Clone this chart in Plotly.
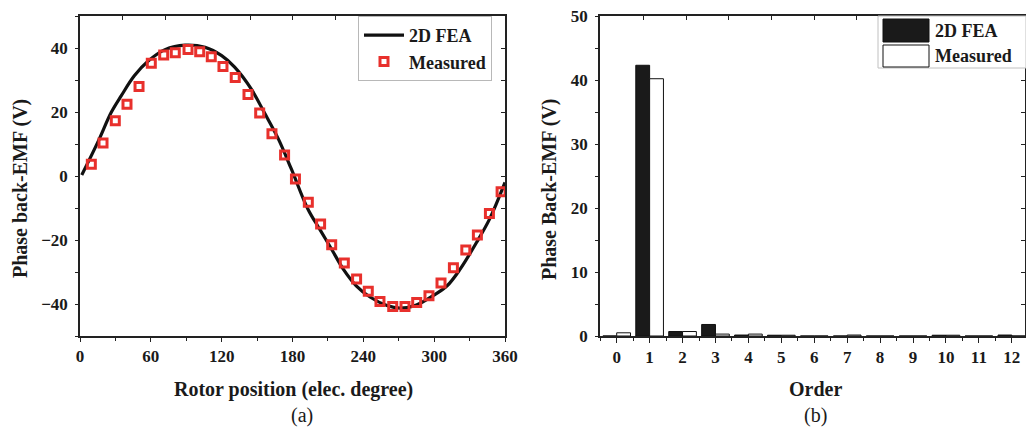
import plotly.graph_objects as go

# ---------------- data ----------------
fea_pos = [1.5, 15, 26.5, 35, 46, 58, 72, 89, 106, 120, 131, 145, 156, 168, 179,
           193, 203, 213, 223, 234, 246, 260, 271, 285, 299, 311, 322, 336, 347, 360]
fea_emf = [0.3, 10.5, 19.9, 25.1, 31.3, 36.0, 39.5, 40.9, 40.2, 37.6, 34.0, 27.2, 19.9, 11.6, 2.2,
           -10.3, -16.6, -22.8, -29.1, -34.3, -37.9, -40.5, -41.3, -40.3, -37.4, -34.3, -29.1, -20.7, -13.4, -2.0]

meas_pos = [9.6, 19.5, 29.9, 39.8, 50.0, 60.4, 70.9, 80.7, 91.5, 101.4, 111.2, 121.1, 131.5, 142.3,
            152.2, 162.6, 173.3, 182.5, 193.4, 203.8, 213.2, 223.9, 234.3, 244.2, 254.1, 264.9,
            275.3, 285.2, 295.6, 305.8, 316.3, 326.8, 336.6, 346.8, 356.7]
meas_emf = [3.7, 10.3, 17.3, 22.4, 28.0, 35.2, 37.8, 38.5, 39.5, 38.8, 37.3, 34.2, 30.8, 25.5,
            19.7, 13.2, 6.6, -0.9, -8.2, -15.0, -21.5, -27.2, -32.2, -36.0, -39.2, -40.8,
            -40.8, -39.5, -37.4, -33.4, -28.7, -23.1, -18.4, -11.7, -4.9]

orders = [0, 1, 2, 3, 4, 5, 6, 7, 8, 9, 10, 11, 12]
fea_harm = [0.0, 42.3, 0.7, 1.8, 0.15, 0.12, 0.0, 0.0, 0.0, 0.0, 0.12, 0.0, 0.15]
meas_harm = [0.5, 40.2, 0.7, 0.3, 0.3, 0.12, 0.0, 0.15, 0.0, 0.0, 0.12, 0.0, 0.0]

x_ticks_a = [0, 60, 120, 180, 240, 300, 360]
y_ticks_a = [-40, -20, 0, 20, 40]
y_ticks_b = [0, 10, 20, 30, 40, 50]

# ---------------- layout helpers ----------------
W, H = 1026, 429
def px(x):
    return x / W
def py(y):
    return 1 - y / H

SERIF = "Liberation Serif"
TXT = "#1a1a1a"
LC = "#222222"
tickfont = dict(family=SERIF, size=17, color=TXT, weight="bold")
titlefont = dict(family=SERIF, size=20, color=TXT, weight="bold")

fig = go.Figure()

fig.add_trace(go.Scatter(
    x=fea_pos, y=fea_emf, mode="lines", name="2D FEA",
    line=dict(color="#111111", width=3.2, shape="spline"),
    xaxis="x", yaxis="y", legend="legend"))
fig.add_trace(go.Scatter(
    x=meas_pos, y=meas_emf, mode="markers", name="Measured",
    marker=dict(symbol="square-open", size=8, color="#e8302c", line=dict(width=3)),
    xaxis="x", yaxis="y", legend="legend"))

fig.add_trace(go.Bar(
    x=orders, y=fea_harm, name="2D FEA", showlegend=False,
    marker=dict(color="#1a1a1a", line=dict(color="#111111", width=1)),
    xaxis="x2", yaxis="y2"))
fig.add_trace(go.Bar(
    x=orders, y=meas_harm, name="Measured", showlegend=False,
    marker=dict(color="#ffffff", line=dict(color="#111111", width=1)),
    xaxis="x2", yaxis="y2"))

# invisible carrier traces so the mirrored (top / right) axes get drawn
fig.add_trace(go.Scatter(x=meas_pos, y=meas_emf, mode="markers", marker=dict(opacity=0),
                         hoverinfo="skip", showlegend=False, xaxis="x3", yaxis="y3"))
fig.add_trace(go.Scatter(x=orders, y=meas_harm, mode="markers", marker=dict(opacity=0),
                         hoverinfo="skip", showlegend=False, xaxis="x4", yaxis="y4"))

dom_a = [px(80), px(505)]
dom_b = [px(600), px(1025)]
dom_y = [py(336), py(16)]

axis_common = dict(showline=True, linecolor=LC, linewidth=1.5,
                   showgrid=False, zeroline=False, tickcolor=LC,
                   tickwidth=1.3, tickfont=tickfont, automargin=False)
mirror_common = dict(ticks="inside", ticklen=4, showticklabels=False, showline=True,
                     linecolor=LC, linewidth=1.5, showgrid=False, zeroline=False,
                     tickcolor=LC, tickwidth=1.3, automargin=False)

fig.update_layout(
    width=W, height=H,
    margin=dict(l=0, r=0, t=0, b=0, pad=0, autoexpand=False),
    paper_bgcolor="white", plot_bgcolor="white",
    barmode="group", bargap=0.16, bargroupgap=0,
    xaxis=dict(domain=dom_a, range=[0, 360], anchor="y", tickvals=x_ticks_a,
               ticks="outside", ticklen=4,
               minor=dict(dtick=30, ticks="outside", ticklen=3, tickcolor=LC),
               **axis_common),
    yaxis=dict(domain=dom_y, range=[-50, 50], anchor="x", tickvals=y_ticks_a,
               ticks="outside", ticklen=3, ticklabelstandoff=4,
               minor=dict(dtick=10, ticks="outside", ticklen=3, tickcolor=LC),
               **axis_common),
    xaxis3=dict(overlaying="x", side="top", anchor="y3", range=[0, 360], tick0=0, dtick=36,
                **mirror_common),
    yaxis3=dict(overlaying="y", side="right", anchor="x3", range=[-50, 50], dtick=10,
                **mirror_common),
    xaxis2=dict(domain=dom_b, range=[-0.507, 12.4], anchor="y2", tickvals=orders,
                ticks="outside", ticklen=5,
                minor=dict(dtick=0.5, tick0=0.5, ticks="outside", ticklen=3, tickcolor=LC),
                **axis_common),
    yaxis2=dict(domain=dom_y, range=[0, 50], anchor="x2", tickvals=y_ticks_b,
                ticks="outside", ticklen=3, ticklabelstandoff=4,
                minor=dict(dtick=5, ticks="outside", ticklen=3, tickcolor=LC),
                **axis_common),
    xaxis4=dict(overlaying="x2", side="top", anchor="y4", range=[-0.507, 12.4], tick0=0.81,
                dtick=1.297, **mirror_common),
    yaxis4=dict(overlaying="y2", side="right", anchor="x4", range=[0, 50], dtick=5,
                **mirror_common),
    legend=dict(x=px(358), y=py(16), xanchor="left", yanchor="top",
                bgcolor="white", bordercolor="#b8b8b8", borderwidth=1,
                font=dict(family=SERIF, size=18, color=TXT, weight="bold"),
                tracegroupgap=0, itemwidth=40),
    showlegend=True,
)

# custom legend for panel (b)
shapes = [
    dict(type="rect", xref="paper", yref="paper", x0=px(878), x1=px(1026), y0=py(68), y1=py(16),
         fillcolor="white", line=dict(color="#c0c0c0", width=1), layer="above"),
    dict(type="rect", xref="paper", yref="paper", x0=px(883), x1=px(929), y0=py(42), y1=py(19),
         fillcolor="#1a1a1a", line=dict(color="#111111", width=1), layer="above"),
    dict(type="rect", xref="paper", yref="paper", x0=px(883), x1=px(929), y0=py(67), y1=py(45),
         fillcolor="white", line=dict(color="#111111", width=1), layer="above"),
]
fig.update_layout(shapes=shapes)

ann = []
ann.append(dict(text="2D FEA", x=px(933), y=py(31), xref="paper", yref="paper",
                xanchor="left", yanchor="middle", showarrow=False,
                font=dict(family=SERIF, size=18, color=TXT, weight="bold")))
ann.append(dict(text="Measured", x=px(933), y=py(56), xref="paper", yref="paper",
                xanchor="left", yanchor="middle", showarrow=False,
                font=dict(family=SERIF, size=18, color=TXT, weight="bold")))
# axis titles
ann.append(dict(text="Rotor position (elec. degree)", x=px(293), y=py(389), xref="paper", yref="paper",
                xanchor="center", yanchor="middle", showarrow=False, font=titlefont))
ann.append(dict(text="Phase back-EMF (V)", x=px(20), y=py(189), xref="paper", yref="paper",
                xanchor="center", yanchor="middle", showarrow=False, textangle=-90, font=titlefont))
ann.append(dict(text="Order", x=px(815), y=py(389), xref="paper", yref="paper",
                xanchor="center", yanchor="middle", showarrow=False, font=titlefont))
ann.append(dict(text="Phase Back-EMF (V)", x=px(549), y=py(190), xref="paper", yref="paper",
                xanchor="center", yanchor="middle", showarrow=False, textangle=-90, font=titlefont))
# panel labels
ann.append(dict(text="(a)", x=px(302), y=py(415), xref="paper", yref="paper",
                xanchor="center", yanchor="middle", showarrow=False,
                font=dict(family=SERIF, size=20, color=TXT)))
ann.append(dict(text="(b)", x=px(815), y=py(415), xref="paper", yref="paper",
                xanchor="center", yanchor="middle", showarrow=False,
                font=dict(family=SERIF, size=20, color=TXT)))
fig.update_layout(annotations=ann)

fig.write_html("out.html")
